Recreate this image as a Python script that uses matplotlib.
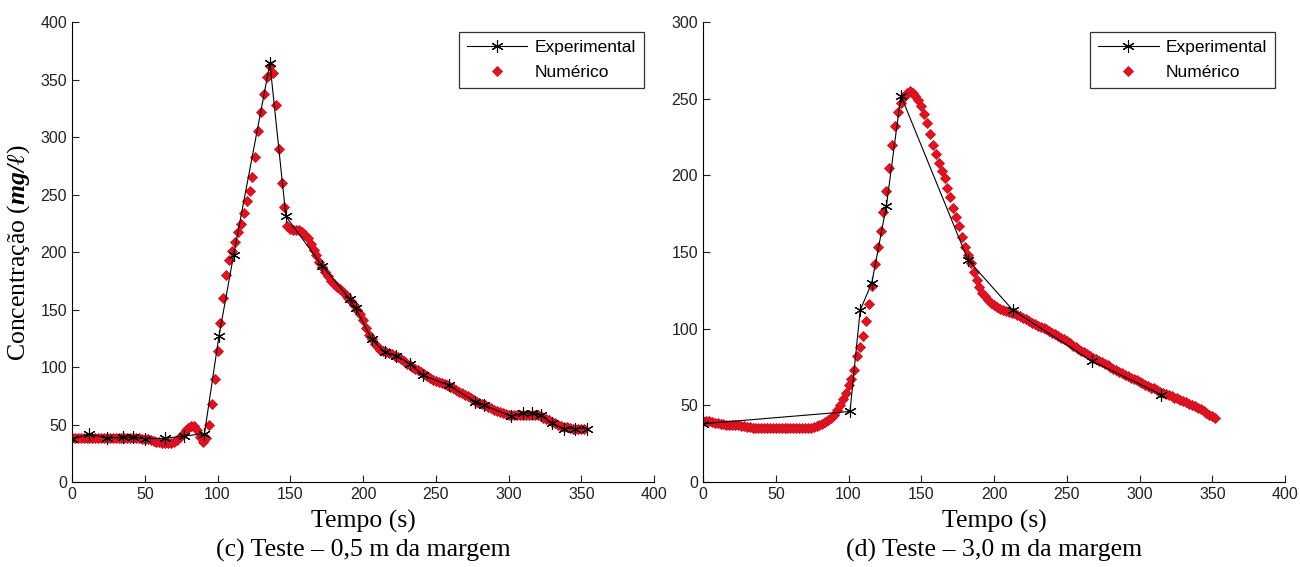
import numpy as np
import matplotlib
matplotlib.use("Agg")
import matplotlib.pyplot as plt

plt.rcParams['font.family'] = ['Liberation Sans', 'DejaVu Sans']
plt.rcParams['mathtext.fontset'] = 'custom'
plt.rcParams['mathtext.rm'] = 'Liberation Serif'
plt.rcParams['mathtext.it'] = 'Liberation Serif:italic'
plt.rcParams['mathtext.bf'] = 'Liberation Serif:bold:italic'

# tempo do modelo numerico (passo de 2 s)
t_num = np.arange(0, 353, 2)

# (c) 0,5 m da margem
exp_c_t = [0, 12, 24, 35, 42, 50, 64, 77, 91, 101, 111, 136, 147, 172, 191, 195,
           206, 215, 223, 232, 241, 259, 277, 283, 302, 310, 316, 322, 330, 338, 346, 354]
exp_c = [37, 42, 38, 39, 39, 37.5, 38, 40, 42, 127, 197, 364, 231, 188, 159, 151,
         124, 113, 110, 103, 93, 84, 70, 67, 57, 60, 60, 58, 51, 46.5, 46.5, 46.5]
num_c = [38, 38, 38, 38, 38, 38, 38, 38, 38, 38, 38, 38, 38, 38.5, 38.5, 38.5,
         38.5, 38.5, 38.5, 38.5, 38.5, 38.5, 38, 38, 37.5, 37.5, 37, 36.5, 35.5, 35,
         34.5, 34, 33.5, 33.5, 34, 35, 36.5, 39, 42, 45, 47, 49, 48.5, 45, 39,
         35, 38, 50, 68, 90, 114, 138, 160, 180, 193, 201, 209, 217, 224, 234,
         244, 253, 265, 283, 305, 322, 337, 352, 362, 356, 328, 290, 260, 239, 223,
         220, 219, 219, 219, 217, 215, 212, 207, 202, 197, 191, 187, 183, 179, 175,
         172, 170, 168, 165, 163, 160, 157, 154, 150, 146, 141, 134, 128, 124, 120,
         117, 115, 114, 113, 112, 111, 109.5, 108.5, 107, 105, 103, 101.5, 100, 98.5, 97,
         95.5, 94, 92, 90.5, 89, 88, 87, 86, 85, 84, 83, 81.5, 80, 78.5, 77,
         76, 74.5, 73, 71.5, 70, 69, 68, 67, 65.5, 64, 63, 62, 61, 60, 59,
         58, 58, 58, 58, 58, 58, 58, 58, 58, 58, 58, 57, 56, 55, 53.5,
         52, 51, 49.5, 48.5, 48, 47.5, 47, 46.5, 46.5, 46.5, 46.5, 46.5]

# (d) 3,0 m da margem
exp_d_t = [0, 101, 108, 116, 126, 136, 182, 213, 267, 315]
exp_d = [38, 46, 112, 130, 180, 252, 145, 112, 79, 57]
num_d = [39.5, 39.5, 39.5, 39, 38.5, 38.5, 38, 38, 37.5, 37.5, 37, 37, 37, 36.5, 36.5, 36,
         36, 35.5, 35.5, 35.5, 35, 35, 35, 35, 35, 35, 35, 35, 35, 35,
         35, 35, 35, 35, 35, 35, 35.5, 35.5, 36, 36.5, 37, 38, 39, 40.5, 42,
         44, 47, 50, 54, 58, 63, 67, 73, 82, 88, 95, 105, 116, 128, 142,
         153, 164, 176, 190, 205, 220, 232, 241, 247, 251, 254, 255, 254, 252, 249,
         245, 240, 234, 227, 220, 214, 208, 203, 198, 192, 186, 179, 173, 167, 160,
         153, 148, 143, 137, 132, 127, 123, 121, 119, 117, 115.5, 114, 113, 112, 111.5,
         111, 110.5, 110, 109, 108, 107, 106, 105, 104, 103, 102, 101, 100.5, 99.5, 98.5,
         97.5, 96.5, 95, 94, 93, 92, 90.5, 89, 88, 86.5, 85.5, 84.5, 83.5, 82, 81,
         80, 79, 78, 77, 76, 75, 74, 73, 72, 71, 70, 69, 68, 67.5, 66.5,
         65.5, 64.5, 63.5, 62.5, 61.5, 61, 60, 59, 58, 57.5, 57, 56, 55, 54.5, 53.5,
         53, 52, 51, 50.5, 49.5, 48.5, 47.5, 46.5, 45, 44, 43, 42]

xticks = [0, 50, 100, 150, 200, 250, 300, 350, 400]

fig = plt.figure(figsize=(13, 5.67), dpi=100)
ax1 = fig.add_axes([0.0554, 0.1499, 0.4477, 0.8113])
ax2 = fig.add_axes([0.5408, 0.1499, 0.4477, 0.8113])

paineis = [(ax1, exp_c_t, exp_c, num_c, 400, '(c) Teste – 0,5 m da margem'),
           (ax2, exp_d_t, exp_d, num_d, 300, '(d) Teste – 3,0 m da margem')]

for ax, te, ye, yn, ymax, legenda in paineis:
    h2, = ax.plot(t_num, yn, linestyle='none', marker='D', markersize=5.2,
                  markerfacecolor='#e5121c', markeredgecolor='#cc1028',
                  markeredgewidth=0.6, label='Numérico', zorder=2)
    h1, = ax.plot(te, ye, color='black', lw=0.8, marker=(6, 2, 0), markersize=9,
                  markeredgewidth=0.8, label='Experimental', zorder=3)
    ax.set_xlim(0, 400)
    ax.set_ylim(0, ymax)
    ax.set_xticks(xticks)
    ax.spines['top'].set_visible(False)
    ax.spines['right'].set_visible(False)
    ax.tick_params(direction='in', length=5, labelsize=11.5, colors='#222222')
    ax.set_xlabel('Tempo (s)', fontfamily='Liberation Serif', fontsize=18.5, labelpad=6)
    leg = ax.legend(handles=[h1, h2], loc='upper right', fontsize=12.5,
                    frameon=True, fancybox=False, edgecolor='black',
                    handlelength=3.5, borderaxespad=0.6, labelspacing=0.55,
                    borderpad=0.45, handletextpad=0.4)
    leg.get_frame().set_linewidth(0.9)
    pos = ax.get_position()
    fig.text(pos.x0 + pos.width / 2, 0.03, legenda, ha='center', va='center',
             fontfamily='Liberation Serif', fontsize=18.5)

ax1.set_ylabel('Concentração ($\\mathbf{mg/ℓ}$)', fontfamily='Liberation Serif',
               fontsize=18.5, labelpad=6)

fig.savefig('out.png', dpi=100)
